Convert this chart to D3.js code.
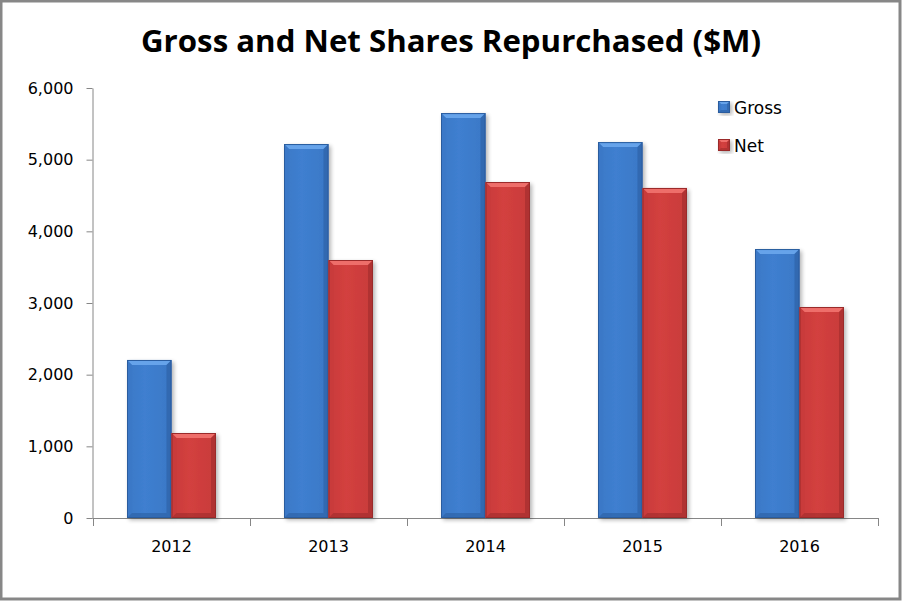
<!DOCTYPE html>
<html><head><meta charset="utf-8">
<script src="https://cdn.jsdelivr.net/npm/d3@7"></script>
<style>body{margin:0;background:#fff}svg{display:block}</style>
</head><body><svg id="c" width="902" height="601"></svg>
<script>
const categories = ["2012","2013","2014","2015","2016"];
const grossValues = [2205, 5218, 5650, 5245, 3753];
const netValues = [1186, 3600, 4688, 4605, 2944];
const seriesNames = ["Gross","Net"];
const yTicks = [0,1000,2000,3000,4000,5000,6000];

const svg = d3.select("#c");
const W=902,H=601;
svg.append("rect").attr("x",1).attr("y",1).attr("width",W-3).attr("height",H-3)
  .attr("fill","#fff").attr("stroke","#878787").attr("stroke-width",3);

const defs = svg.append("defs");
const pal = {Gross:{base:"#3f7fd0",light:"#66a3ea",dark:"#2a5c9e",mid:"#3a78c6"},
             Net:{base:"#d3403f",light:"#ee6e6b",dark:"#9a2a29",mid:"#c83b3a"}};
Object.entries(pal).forEach(([k,c])=>{
  const g=defs.append("linearGradient").attr("id","g"+k).attr("x1",0).attr("x2",1).attr("y1",0).attr("y2",0);
  g.append("stop").attr("offset","0%").attr("stop-color",c.mid);
  g.append("stop").attr("offset","40%").attr("stop-color",c.base);
  g.append("stop").attr("offset","100%").attr("stop-color",c.mid);
});
const f=defs.append("filter").attr("id","sh").attr("x","-20%").attr("y","-10%").attr("width","150%").attr("height","130%");
f.append("feGaussianBlur").attr("in","SourceAlpha").attr("stdDeviation",2);
f.append("feOffset").attr("dx",2).attr("dy",2).attr("result","b");
f.append("feComponentTransfer").append("feFuncA").attr("type","linear").attr("slope",0.3);
const m=f.append("feMerge");m.append("feMergeNode");m.append("feMergeNode").attr("in","SourceGraphic");

const x0=d3.scaleBand().domain(categories).range([93,878]).paddingInner(0).paddingOuter(0);
const y=d3.scaleLinear().domain([0,6000]).range([518,88]);
const inner=44.5, off=(x0.bandwidth()-2*inner)/2;
const x1=d3.scaleBand().domain(seriesNames).range([off,off+2*inner]);

svg.append("text").attr("x",451).attr("y",52).attr("text-anchor","middle")
  .attr("font-family","Open Sans, sans-serif").attr("font-weight","bold").attr("font-size",31)
  .attr("textLength",620).attr("lengthAdjust","spacingAndGlyphs").attr("fill","#000")
  .text("Gross and Net Shares Repurchased ($M)");

// axes
const yAxis=d3.axisLeft(y).tickValues(yTicks).tickFormat(d3.format(",")).tickSize(6).tickSizeOuter(0);
const ya=svg.append("g").attr("transform","translate(92.5,0)").call(yAxis);
ya.select(".domain").attr("stroke","#868686");
ya.selectAll(".tick line").attr("stroke","#868686");
ya.selectAll(".tick text").attr("font-family","DejaVu Sans, Verdana, sans-serif").attr("font-size",16).attr("fill","#000").attr("x",-19);

const xa=svg.append("g").attr("transform","translate(0,518.5)")
  .call(d3.axisBottom(x0).tickSize(0).tickSizeOuter(0));
xa.select(".domain").attr("stroke","#868686").attr("d","M92.5,0H878.5");
xa.selectAll(".tick text").attr("font-family","DejaVu Sans, Verdana, sans-serif").attr("font-size",16).attr("fill","#000").attr("y",22).attr("dy","0.71em");
// category boundary ticks
const bounds=categories.map(c=>x0(c)).concat([x0.range()[1]]);
svg.append("g").selectAll("line").data(bounds).join("line")
  .attr("x1",d=>Math.round(d)+0.5).attr("x2",d=>Math.round(d)+0.5).attr("y1",518).attr("y2",526).attr("stroke","#868686");

function bevelBar(g,xx,yy,w,h,k,bev){
  const c=pal[k]; const b=Math.min(bev,h/2);
  const gg=g.append("g").attr("filter","url(#sh)");
  gg.append("rect").attr("x",xx).attr("y",yy).attr("width",w).attr("height",h).attr("fill","url(#g"+k+")");
  gg.append("path").attr("d",`M${xx},${yy}H${xx+w}L${xx+w-b},${yy+b}H${xx+b}Z`).attr("fill",c.light);
  gg.append("path").attr("d",`M${xx},${yy}L${xx+b},${yy+b}V${yy+h-b}L${xx},${yy+h}Z`).attr("fill",c.mid).attr("opacity",0.6);
  gg.append("path").attr("d",`M${xx+w},${yy}L${xx+w-b},${yy+b}V${yy+h-b}L${xx+w},${yy+h}Z`).attr("fill",c.dark).attr("opacity",0.55);
  gg.append("path").attr("d",`M${xx},${yy+h}L${xx+b},${yy+h-b}H${xx+w-b}L${xx+w},${yy+h}Z`).attr("fill",c.dark).attr("opacity",0.55);
  gg.append("rect").attr("x",xx+0.5).attr("y",yy+0.5).attr("width",w-1).attr("height",h-1).attr("fill","none").attr("stroke",c.dark).attr("stroke-width",1);
}
const bars=svg.append("g");
categories.forEach((cat,i)=>{
  [["Gross",grossValues[i]],["Net",netValues[i]]].forEach(([k,v])=>{
    bevelBar(bars,x0(cat)+x1(k),y(v),x1.bandwidth(),y(0)-y(v),k,5);
  });
});

// legend
const lg=svg.append("g");
seriesNames.forEach((k,i)=>{
  const ly=101+i*38;
  bevelBar(lg,718,ly,12,12,k,3);
  lg.append("text").attr("x",734).attr("y",ly+13).attr("font-family","DejaVu Sans, Verdana, sans-serif")
    .attr("font-size",17).attr("fill","#000").text(k);
});
</script></body></html>
